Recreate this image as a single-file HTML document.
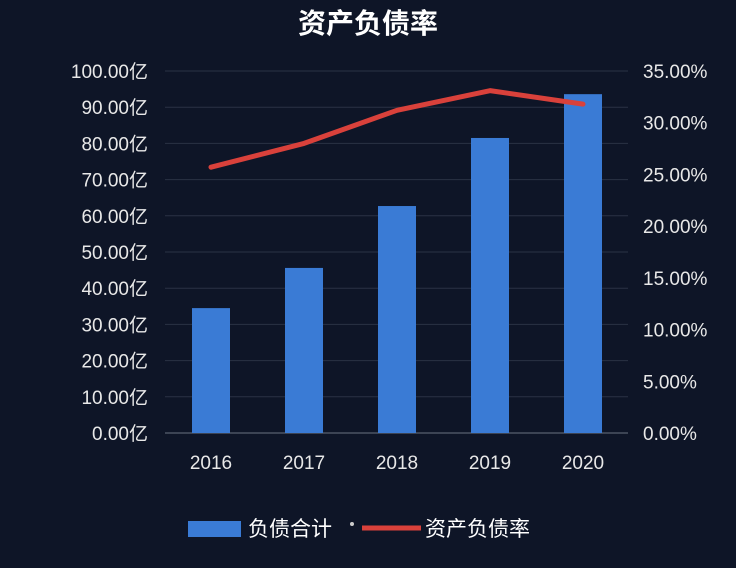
<!DOCTYPE html>
<html><head><meta charset="utf-8"><style>
html,body{margin:0;padding:0;background:#0e1527;}
svg{display:block;font-family:"Liberation Sans","Noto Sans CJK SC",sans-serif;}
</style></head><body>
<svg id="chart" width="736" height="568" viewBox="0 0 736 568">
<rect x="0" y="0" width="736" height="568" fill="#0e1527"/>
<text x="368" y="33" text-anchor="middle" fill="#ffffff" font-size="28" font-weight="bold">资产负债率</text>
<g id="grid"></g><g id="bars"></g><g id="line"></g><g id="axes"></g>
<g>
<rect x="188" y="521" width="53" height="16" fill="#3a7bd5"/>
<text x="248" y="536" fill="#ffffff" font-size="21">负债合计</text>
<circle cx="352" cy="524" r="2" fill="#cccccc"/>
<line x1="362" y1="528" x2="421" y2="528" stroke="#d9413b" stroke-width="5"/>
<text x="425" y="536" fill="#ffffff" font-size="21">资产负债率</text>
</g>
</svg>
<script>
const categories=["2016","2017","2018","2019","2020"];
const debtValues=[34.5,45.6,62.7,81.5,93.6];
const ratioValues=[25.7,28.0,31.2,33.1,31.8];
const leftTicks=[0,10,20,30,40,50,60,70,80,90,100];
const rightTicks=[0,5,10,15,20,25,30,35];
const NS="http://www.w3.org/2000/svg";
const y0=433,yTop=71,xL=165,xR=628;
function yL(v){return y0-(v/100)*(y0-yTop);}
function yR(v){return y0-(v/35)*(y0-yTop);}
function xC(i){return 211+i*93;}
function mk(tag,attrs,parent){const e=document.createElementNS(NS,tag);for(const k in attrs)e.setAttribute(k,attrs[k]);document.getElementById(parent).appendChild(e);return e;}
leftTicks.forEach(t=>{
 const l=mk('line',{x1:xL,x2:xR,y1:yL(t),y2:yL(t),stroke:t===0?'#6b7280':'#2a3245','stroke-width':1},'grid');
 
 
 const tx=mk('text',{x:148,y:yL(t)+7,'text-anchor':'end',fill:'#e8e8e8','font-size':19},'axes');
 tx.textContent=t.toFixed(2)+'亿';
 
 
});
rightTicks.forEach(t=>{
 const tx=mk('text',{x:643,y:yR(t)+7,fill:'#e8e8e8','font-size':19},'axes');
 tx.textContent=t.toFixed(2)+'%';
 
 
});
categories.forEach((c,i)=>{
 const b=mk('rect',{x:xC(i)-19,y:yL(debtValues[i]),width:38,height:y0-yL(debtValues[i]),fill:'#3a7bd5'},'bars');
 
 
 const tx=mk('text',{x:xC(i),y:469,'text-anchor':'middle',fill:'#e8e8e8','font-size':19},'axes');
 tx.textContent=c;
 
 
});
const pts=ratioValues.map((v,i)=>xC(i)+','+yR(v)).join(' ');
const pl=mk('polyline',{points:pts,fill:'none',stroke:'#d9413b','stroke-width':5,'stroke-linejoin':'round','stroke-linecap':'round'},'line');


</script>
</body></html>
